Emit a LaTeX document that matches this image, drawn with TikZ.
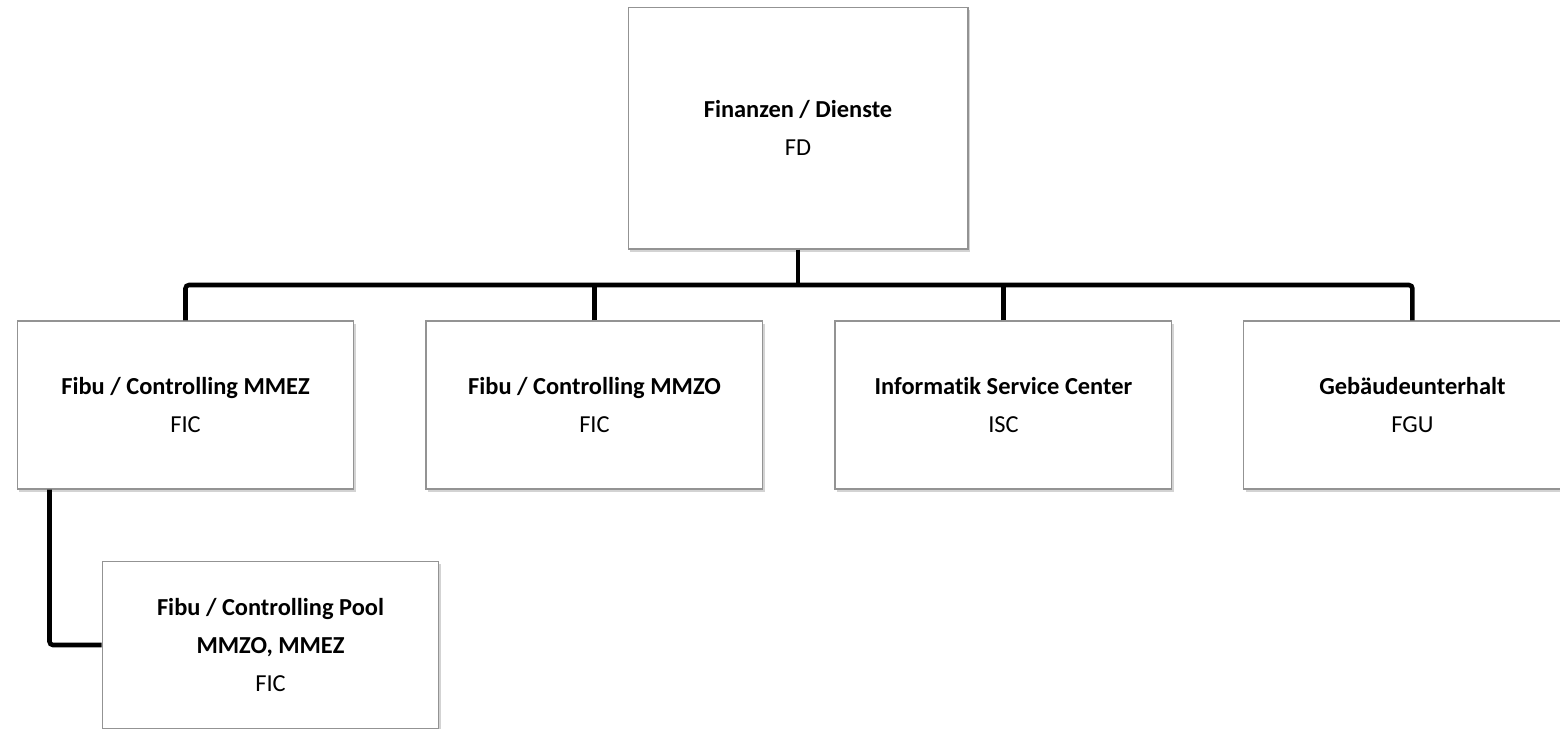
\documentclass[tikz,border=0pt]{standalone}
\usepackage{fontspec}
\setmainfont{Carlito}[Ligatures=NoCommon]
\usetikzlibrary{positioning,shadows}

\begin{document}
\begin{tikzpicture}[
  x=0.02cm, y=-0.02cm,
  node distance=1.42cm,
  unit/.style={draw=gray!85, line width=0.6pt, fill=white, minimum width=6.74cm, minimum height=3.36cm, align=center, inner sep=0pt, font=\fontsize{13.9}{21.9}\selectfont, drop shadow={shadow xshift=1.2pt, shadow yshift=-1.5pt, opacity=0.35}},
  link/.style={line width=2.6pt, rounded corners=2pt}
]
\useasboundingbox (0,0) rectangle (1560,728);

\node[unit, minimum width=6.8cm, minimum height=4.84cm] (fd) at (798,128) {\textbf{Finanzen / Dienste}\\FD};
\node[unit] (fic1) at (185.5,405) {\textbf{Fibu / Controlling MMEZ}\\FIC};
\node[unit, right=of fic1] (fic2) {\textbf{Fibu / Controlling MMZO}\\FIC};
\node[unit, right=of fic2] (isc) {\textbf{Informatik Service Center}\\ISC};
\node[unit, right=of isc] (fgu) {\textbf{Gebäudeunterhalt}\\FGU};
\node[unit] (pool) at (270.5,645) {\textbf{Fibu / Controlling Pool}\\\textbf{MMZO, MMEZ}\\FIC};

% connectors
\coordinate (bus) at (0,285);
\draw[link] (fd.south) -- (fd.south |- bus);
\draw[link] (fic1.north) |- (fgu.north |- bus) -- (fgu.north);
\draw[link] (fic2.north) -- (fic2.north |- bus);
\draw[link] (isc.north) -- (isc.north |- bus);
\coordinate (drop) at ([xshift=0.66cm]fic1.south west);
\draw[link] (drop) |- (pool.west);
\end{tikzpicture}
\end{document}
